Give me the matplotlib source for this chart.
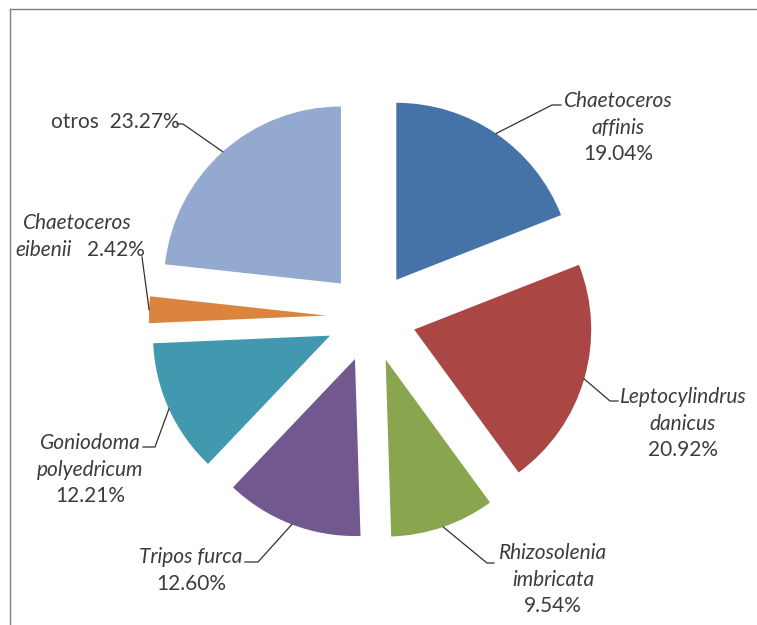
# Exploded pie of phytoplankton species share
import numpy as np
import matplotlib.pyplot as plt
from matplotlib.lines import Line2D

plt.rcParams['font.family'] = ['Lato', 'DejaVu Sans']

names = ["Chaetoceros\naffinis", "Leptocylindrus\ndanicus", "Rhizosolenia\nimbricata",
         "Tripos furca", "Goniodoma\npolyedricum", "Chaetoceros\neibenii", "otros"]
values = [19.04, 20.92, 9.54, 12.60, 12.21, 2.42, 23.27]

colors = ['#4572A7', '#AA4643', '#89A54E', '#71588F', '#4198AF', '#DB843D', '#93A9CF']
W, H = 757, 625
TXT = '#3c3c3c'

# label layout in pixel coords (y measured from top)
label_x = [618, 683, 553, 191, 90, 77, 115]
label_y = [101, 397, 553, 557, 443, 223, 122]
elbows = [(552, 105), (610, 401), (487, 563), (258, 562), (155, 447), (142, 257), (183, 124)]
ends = [(561, 105), (618, 401), (494, 563), (245, 562), (143, 447), (142, 257), (177, 124)]
inline = [False, False, False, False, False, True, True]
LINE_H = 26.5


def py(y):
    return H - y


fig = plt.figure(figsize=(W / 100, H / 100), dpi=100)
ax = fig.add_axes([0, 0, 1, 1])
wedges, _ = ax.pie(values, colors=colors, startangle=90, counterclock=False,
                   radius=177, center=(371, py(317)), explode=[45] * len(values),
                   wedgeprops=dict(linewidth=0))
ax.set_xlim(0, W)
ax.set_ylim(0, H)
ax.set_aspect('equal')
ax.axis('off')

fs = 15
for i, (w, name, v) in enumerate(zip(wedges, names, values)):
    # leader line from the middle of the arc
    tm = np.deg2rad((w.theta1 + w.theta2) / 2)
    ax0 = w.center[0] + w.r * np.cos(tm)
    ay0 = w.center[1] + w.r * np.sin(tm)
    ex, ey = elbows[i]
    nx, ny = ends[i]
    ax.plot([ax0, ex, nx], [ay0, py(ey), py(ny)], color='#303030', lw=0.9)

    style = 'normal' if name == 'otros' else 'italic'
    lines = name.split('\n')
    pct = f"{v:.2f}%"
    x, y = label_x[i], label_y[i]
    if inline[i]:
        for ln in lines[:-1]:
            ax.text(x, py(y), ln, ha='center', va='center', fontsize=fs, style=style, color=TXT)
            y += LINE_H
        if style == 'normal':
            ax.text(x, py(y), lines[-1] + '  ' + pct, ha='center', va='center',
                    fontsize=fs, color=TXT)
        else:
            ax.text(x - 5, py(y), lines[-1], ha='right', va='center', fontsize=fs,
                    style=style, color=TXT)
            ax.text(x + 10, py(y), pct, ha='left', va='center', fontsize=fs, color=TXT)
    else:
        for ln in lines:
            ax.text(x, py(y), ln, ha='center', va='center', fontsize=fs, style=style, color=TXT)
            y += LINE_H
        ax.text(x, py(y), pct, ha='center', va='center', fontsize=fs, color=TXT)

# chart area border (top and left edges visible)
fig.add_artist(Line2D([10 / W, 10 / W], [0, 1 - 9 / H], color='#808080', lw=1))
fig.add_artist(Line2D([10 / W, 1], [1 - 9 / H, 1 - 9 / H], color='#808080', lw=1))

fig.savefig('out.png', dpi=100)
